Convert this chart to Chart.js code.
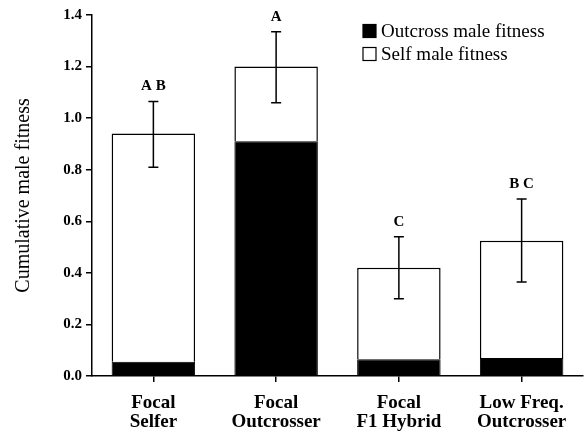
<!DOCTYPE html>
<html lang="en">
<head>
  <meta charset="UTF-8">
  <title>Cumulative male fitness</title>
  <script src="https://cdn.jsdelivr.net/npm/chart.js"></script>
  <style>
    html, body { margin: 0; padding: 0; background: #fff; }
    #wrap { width: 586px; height: 435px; }
  </style>
</head>
<body>
  <div id="wrap"><canvas id="fitnessChart" width="586" height="435"></canvas></div>
  <script>
    const categories = [['Focal', 'Selfer'], ['Focal', 'Outcrosser'], ['Focal', 'F1 Hybrid'], ['Low Freq.', 'Outcrosser']];
    const outcrossFitness = [0.055, 0.91, 0.065, 0.07];
    const totalFitness = [0.94, 1.2, 0.42, 0.525];
    const errorLow = [0.81, 1.06, 0.30, 0.365];
    const errorHigh = [1.065, 1.335, 0.54, 0.686];
    const groupLetters = ['AB', 'A', 'C', 'BC'];
    const selfFitness = totalFitness.map((t, i) => +(t - outcrossFitness[i]).toFixed(3));

    const serif = '"Liberation Serif", "DejaVu Serif", serif';

    // error bars, significance letters and the legend box
    const extras = {
      id: 'extras',
      afterDatasetsDraw(chart) {
        const { ctx, scales: { x, y } } = chart;
        ctx.save();
        ctx.strokeStyle = '#000';
        totalFitness.forEach((t, i) => {
          const cx = x.getPixelForValue(i);
          const yHi = y.getPixelForValue(errorHigh[i]);
          const yLo = y.getPixelForValue(errorLow[i]);
          ctx.lineWidth = 1.5;
          ctx.beginPath();
          ctx.moveTo(cx, yHi); ctx.lineTo(cx, yLo);
          ctx.moveTo(cx - 5, yHi); ctx.lineTo(cx + 5, yHi);
          ctx.moveTo(cx - 5, yLo); ctx.lineTo(cx + 5, yLo);
          ctx.stroke();
          ctx.fillStyle = '#000';
          ctx.font = 'bold 15px ' + serif;
          ctx.textAlign = 'center';
          ctx.textBaseline = 'alphabetic';
          ctx.fillText(groupLetters[i].split('').join(' '), cx, yHi - 11);
        });

        // legend
        ctx.font = '19px ' + serif;
        ctx.textAlign = 'left';
        ctx.textBaseline = 'middle';
        chart.data.datasets.forEach((ds, k) => {
          const cy = 31 + k * 23;
          ctx.fillStyle = ds.backgroundColor;
          ctx.fillRect(363, cy - 6.5, 13, 13);
          ctx.lineWidth = 1.2;
          ctx.strokeRect(363, cy - 6.5, 13, 13);
          ctx.fillStyle = '#000';
          ctx.fillText(ds.label, 381, cy + 1);
        });
        ctx.restore();
      }
    };

    new Chart(document.getElementById('fitnessChart'), {
      type: 'bar',
      data: {
        labels: categories,
        datasets: [
          {
            label: 'Outcross male fitness',
            data: outcrossFitness,
            backgroundColor: '#000000',
            borderColor: '#000',
            borderWidth: 1
          },
          {
            label: 'Self male fitness',
            data: selfFitness,
            backgroundColor: '#ffffff',
            borderColor: '#000',
            borderWidth: 1.5
          }
        ]
      },
      options: {
        responsive: false,
        animation: false,
        layout: { padding: { top: 15, right: 3, left: 0, bottom: 0 } },
        plugins: { legend: { display: false }, tooltip: { enabled: false } },
        datasets: { bar: { categoryPercentage: 1.0, barPercentage: 0.68 } },
        scales: {
          x: {
            stacked: true,
            border: { color: '#000', width: 1.5 },
            grid: { drawOnChartArea: false, offset: false, tickLength: 6, color: '#000', lineWidth: 1.5 },
            ticks: {
              color: '#000',
              font: { family: serif, size: 19, weight: 'bold', lineHeight: 1.0 },
              padding: 12,
              maxRotation: 0
            },
            afterFit(scale) { scale.height = 59; }
          },
          y: {
            stacked: true,
            min: 0,
            max: 1.4,
            border: { color: '#000', width: 1.5 },
            grid: { drawOnChartArea: false, tickLength: 6, color: '#000', lineWidth: 1.5 },
            ticks: {
              stepSize: 0.2,
              color: '#000',
              padding: 4,
              font: { family: serif, size: 15, weight: 'bold' },
              callback: v => v.toFixed(1)
            },
            title: {
              display: true,
              text: 'Cumulative male fitness',
              color: '#000',
              font: { family: serif, size: 20 },
              padding: { top: 12, bottom: 6 }
            },
            afterFit(scale) { scale.width = 92; }
          }
        }
      },
      plugins: [extras]
    });
  </script>
</body>
</html>
